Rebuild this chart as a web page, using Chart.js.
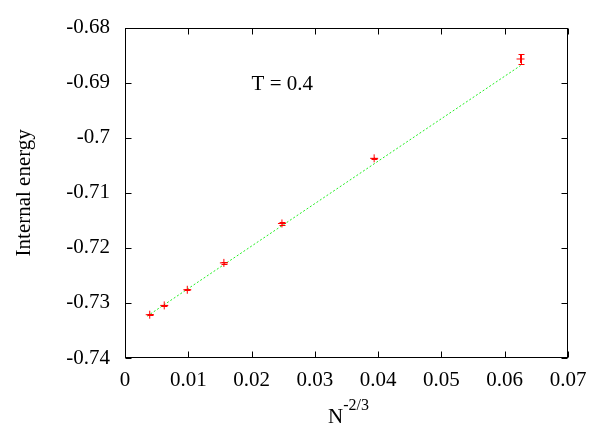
<!DOCTYPE html>
<html>
<head>
<meta charset="utf-8">
<script src="https://cdn.jsdelivr.net/npm/chart.js@4/dist/chart.umd.min.js"></script>
<style>
  html, body { margin: 0; padding: 0; background: #fff; }
  #wrap { width: 605px; height: 424px; position: relative; }
</style>
</head>
<body>
<div id="wrap"><canvas id="c" width="605" height="424"></canvas></div>
<script>
// ---- data ----
const xValues = [0.003906, 0.0062, 0.009843, 0.015625, 0.0248, 0.03937, 0.0625];   // N^{-2/3}
const yValues = [-0.73214, -0.73045, -0.72761, -0.72273, -0.71557, -0.70374, -0.6857];
const yErrors = [0.0001, 0.0001, 0.0001, 0.00015, 0.0002, 0.00015, 0.0009];
const fitX = [0.0035, 0.0625];
const fitY = [-0.7324, -0.6869];
const xTicks = [0, 0.01, 0.02, 0.03, 0.04, 0.05, 0.06, 0.07];
const yTicks = [-0.74, -0.73, -0.72, -0.71, -0.70, -0.69, -0.68];
const yTitle = 'Internal energy';
const xTitleBase = 'N';
const xTitleSup = '-2/3';
const annotationText = 'T = 0.4';

const FONT = '"Liberation Serif", "Times New Roman", serif';

const framePlugin = {
  id: 'frame',
  afterDraw(chart) {
    const ctx = chart.ctx;
    const a = chart.chartArea;
    const xs = chart.scales.x, ys = chart.scales.y;
    const L = Math.round(a.left) + 0.5, R = Math.round(a.right) - 0.5;
    const T = Math.round(a.top) + 0.5, B = Math.round(a.bottom) - 0.5;
    ctx.save();
    ctx.strokeStyle = '#000';
    ctx.lineWidth = 1;
    ctx.setLineDash([]);
    ctx.strokeRect(L, T, R - L, B - T);
    // inward tick marks on all sides
    const tl = 6;
    ctx.beginPath();
    xTicks.forEach(v => {
      const px = Math.round(xs.getPixelForValue(v)) + 0.5;
      ctx.moveTo(px, B); ctx.lineTo(px, B - tl);
      ctx.moveTo(px, T); ctx.lineTo(px, T + tl);
    });
    yTicks.forEach(v => {
      const py = Math.round(ys.getPixelForValue(v)) + 0.5;
      ctx.moveTo(L, py); ctx.lineTo(L + tl, py);
      ctx.moveTo(R, py); ctx.lineTo(R - tl, py);
    });
    ctx.stroke();

    // x-axis title with superscript
    ctx.fillStyle = '#000';
    ctx.textBaseline = 'alphabetic';
    ctx.textAlign = 'left';
    ctx.font = '21px ' + FONT;
    const wBase = ctx.measureText(xTitleBase).width;
    ctx.font = '16px ' + FONT;
    const wSup = ctx.measureText(xTitleSup).width;
    const cx = (a.left + a.right) / 2 + 2;
    const start = cx - (wBase + wSup) / 2;
    ctx.font = '21px ' + FONT;
    ctx.fillText(xTitleBase, start, 422.5);
    ctx.font = '16px ' + FONT;
    ctx.fillText(xTitleSup, start + wBase, 410);

    // annotation
    ctx.font = '21px ' + FONT;
    ctx.fillText(annotationText, xs.getPixelForValue(0.0200), ys.getPixelForValue(-0.6913));
    ctx.restore();
  }
};

const errorBarPlugin = {
  id: 'errorBars',
  afterDatasetsDraw(chart) {
    const ctx = chart.ctx;
    const xs = chart.scales.x, ys = chart.scales.y;
    ctx.save();
    ctx.strokeStyle = '#ff0000';
    ctx.lineWidth = 1;
    ctx.setLineDash([]);
    ctx.beginPath();
    xValues.forEach((xv, i) => {
      const px = Math.round(xs.getPixelForValue(xv)) + 0.5;
      const y1 = ys.getPixelForValue(yValues[i] - yErrors[i]);
      const y2 = ys.getPixelForValue(yValues[i] + yErrors[i]);
      ctx.moveTo(px, y1); ctx.lineTo(px, y2);
      ctx.moveTo(px - 3, Math.round(y1) + 0.5); ctx.lineTo(px + 3, Math.round(y1) + 0.5);
      ctx.moveTo(px - 3, Math.round(y2) + 0.5); ctx.lineTo(px + 3, Math.round(y2) + 0.5);
    });
    ctx.stroke();
    ctx.restore();
  }
};

new Chart(document.getElementById('c'), {
  type: 'scatter',
  data: {
    datasets: [
      {
        label: 'fit',
        type: 'line',
        data: fitX.map((x, i) => ({ x, y: fitY[i] })),
        borderColor: '#22ee22',
        borderWidth: 1,
        borderDash: [2, 2],
        pointRadius: 0,
        fill: false,
        order: 2
      },
      {
        label: 'data',
        data: xValues.map((x, i) => ({ x, y: yValues[i] })),
        pointStyle: 'cross',
        pointRadius: 4,
        borderColor: '#ff0000',
        backgroundColor: '#ff0000',
        borderWidth: 1,
        order: 1
      }
    ]
  },
  options: {
    responsive: false,
    animation: false,
    devicePixelRatio: 1,
    layout: { padding: { top: 26, right: 37, left: 0, bottom: 0 } },
    plugins: { legend: { display: false }, tooltip: { enabled: false } },
    scales: {
      x: {
        type: 'linear',
        min: 0, max: 0.07,
        afterBuildTicks: s => { s.ticks = xTicks.map(v => ({ value: v })); },
        afterFit: s => { s.height = 66; },
        grid: { display: false, drawTicks: false },
        border: { display: false },
        ticks: {
          padding: 10,
          color: '#000',
          font: { family: FONT, size: 21 },
          callback: v => String(Number(v.toFixed(2)))
        }
      },
      y: {
        type: 'linear',
        min: -0.74, max: -0.68,
        afterBuildTicks: s => { s.ticks = yTicks.map(v => ({ value: v })); },
        afterFit: s => { s.width = 125; },
        grid: { display: false, drawTicks: false },
        border: { display: false },
        title: {
          display: true,
          text: yTitle,
          color: '#000',
          font: { family: FONT, size: 21 },
          padding: { top: 12, bottom: 0 }
        },
        ticks: {
          padding: 15,
          color: '#000',
          font: { family: FONT, size: 21 },
          callback: v => String(Number(v.toFixed(2)))
        }
      }
    }
  },
  plugins: [framePlugin, errorBarPlugin]
});
</script>
</body>
</html>
